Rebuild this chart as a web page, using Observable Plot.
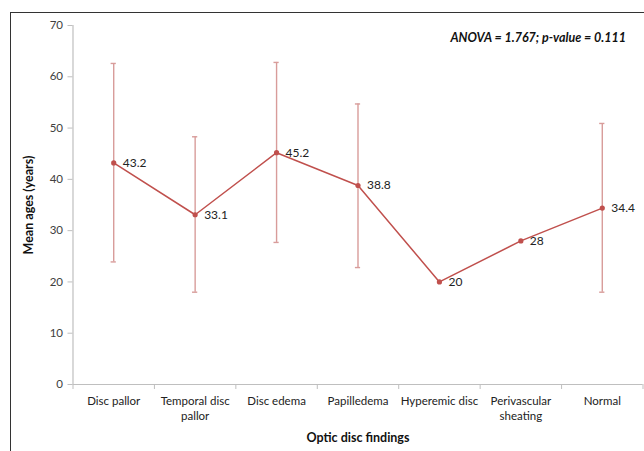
<!DOCTYPE html>
<html>
<head>
<meta charset="utf-8">
<script src="https://cdn.jsdelivr.net/npm/d3@7"></script>
<script src="https://cdn.jsdelivr.net/npm/@observablehq/plot@0.6"></script>
<style>
  html, body { margin: 0; padding: 0; background: white; overflow: hidden; }
  #wrap { position: relative; width: 644px; height: 451px; }
  #frame { position: absolute; left: 10px; top: 12px; right: -10px; bottom: -10px;
           border-left: 1.5px solid #333; border-top: 1.5px solid #333; pointer-events: none; }
</style>
</head>
<body>
<div id="wrap"><div id="frame"></div></div>
<script>
const categories = ["Disc pallor", "Temporal disc pallor", "Disc edema", "Papilledema", "Hyperemic disc", "Perivascular sheating", "Normal"];
const categoryLabels = ["Disc pallor", "Temporal disc\npallor", "Disc edema", "Papilledema", "Hyperemic disc", "Perivascular\nsheating", "Normal"];
const means = [43.2, 33.1, 45.2, 38.8, 20, 28, 34.4];
const upper = [62.6, 48.3, 62.8, 54.7, null, null, 50.9];
const lower = [23.9, 18.0, 27.7, 22.8, null, null, 18.0];
const yTicks = [0, 10, 20, 30, 40, 50, 60, 70];
const annotation = "ANOVA = 1.767; p-value = 0.111";

const data = categories.map((c, i) => ({i, c, mean: means[i], hi: upper[i], lo: lower[i]}));
const bars = data.filter(d => d.hi != null);
const idx = data.map(d => d.i);
const boundaries = d3.range(-0.5, categories.length, 1);
const cap = 0.032;
const red = "#c0504d";
const pink = "#d89c9a";
const grey = "#bfbfbf";

const chart = Plot.plot({
  width: 644,
  height: 451,
  marginLeft: 72.5,
  marginRight: 1.5,
  marginTop: 25,
  marginBottom: 67,
  style: {fontFamily: "Lato, 'Open Sans', sans-serif", fontSize: "11px", background: "white", color: "#333"},
  x: {type: "linear", domain: [-0.5, categories.length - 0.5]},
  y: {domain: [0, 70]},
  marks: [
    Plot.ruleY([0], {stroke: grey, strokeWidth: 1.2}),
    Plot.ruleX([-0.5], {stroke: grey, strokeWidth: 1.2}),
    Plot.axisY({ticks: yTicks, tickSize: 5, tickPadding: 5, stroke: grey, fill: "#404040", fontSize: 11.5, label: null}),
    Plot.axisX({ticks: boundaries, tickSize: 5, tickFormat: () => "", stroke: grey, label: null}),
    Plot.axisX({ticks: idx, tickSize: 0, tickPadding: 10, tickFormat: i => categoryLabels[i], fill: "#222", fontSize: 11.5, lineHeight: 1.3, label: null}),
    Plot.ruleX(bars, {x: "i", y1: "lo", y2: "hi", stroke: pink, strokeWidth: 1.4}),
    Plot.ruleY(bars, {y: "hi", x1: d => d.i - cap, x2: d => d.i + cap, stroke: pink, strokeWidth: 1.4}),
    Plot.ruleY(bars, {y: "lo", x1: d => d.i - cap, x2: d => d.i + cap, stroke: pink, strokeWidth: 1.4}),
    Plot.line(data, {x: "i", y: "mean", stroke: red, strokeWidth: 1.5}),
    Plot.dot(data, {x: "i", y: "mean", r: 2.6, fill: red}),
    Plot.text(data, {x: "i", y: "mean", text: d => String(d.mean), dx: 9, textAnchor: "start", fontSize: 12, fill: "#222"}),
    Plot.text([annotation], {frameAnchor: "top-right", dx: -17, dy: 12, textAnchor: "end", lineAnchor: "middle", fontWeight: "bold", fontStyle: "italic", fontSize: 12.5, fill: "#111"}),
    Plot.text(["Mean ages (years)"], {frameAnchor: "left", dx: -44, rotate: -90, textAnchor: "middle", lineAnchor: "middle", fontWeight: "bold", fontSize: 12.5, fill: "#111"}),
    Plot.text(["Optic disc findings"], {frameAnchor: "bottom", dy: 53, textAnchor: "middle", lineAnchor: "middle", fontWeight: "bold", fontSize: 12.5, fill: "#111"})
  ]
});
document.getElementById("wrap").prepend(chart);
</script>
</body>
</html>
